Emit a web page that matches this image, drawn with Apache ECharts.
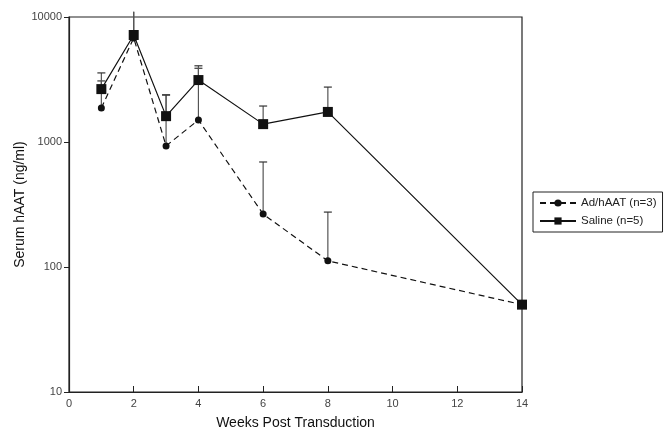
<!DOCTYPE html>
<html>
<head>
<meta charset="utf-8">
<script src="https://cdn.jsdelivr.net/npm/echarts@6/dist/echarts.min.js"></script>
<style>html,body{margin:0;padding:0;background:#fff;}#chart{width:668px;height:441px;}</style>
</head>
<body>
<div id="chart"></div>
<script>
var weeks = [1, 2, 3, 4, 6, 8, 14];
var adValues = [1870, 6800, 930, 1500, 265, 112, 50];
var adErrTop = [3080, 11000, 2380, 3890, 692, 275, null];
var salineValues = [2650, 7180, 1610, 3130, 1390, 1740, 50];
var salineErrTop = [3570, 11000, 2380, 4070, 1940, 2750, null];
var xTicks = [0, 2, 4, 6, 8, 10, 12, 14];
var yTicks = [10, 100, 1000, 10000];

function errData(vals, tops) {
  var out = [];
  for (var i = 0; i < weeks.length; i++) {
    if (tops[i] != null) out.push([weeks[i], vals[i], tops[i]]);
  }
  return out;
}
function renderErr(params, api) {
  var x = api.value(0), v = api.value(1), t = api.value(2);
  var p0 = api.coord([x, v]);
  var p1 = api.coord([x, t]);
  var children = [{
    type: 'line',
    shape: {x1: p0[0], y1: p0[1], x2: p1[0], y2: p1[1]},
    style: {stroke: '#555', lineWidth: 1.2}
  }];
  if (t <= 10000) {
    children.push({
      type: 'line',
      shape: {x1: p1[0] - 4, y1: p1[1], x2: p1[0] + 4, y2: p1[1]},
      style: {stroke: '#333', lineWidth: 1.2}
    });
  }
  return {type: 'group', children: children};
}

var chart = echarts.init(document.getElementById('chart'));
var font = 'Liberation Sans, Arial, Helvetica, sans-serif';
chart.setOption({
  animation: false,
  textStyle: {fontFamily: font},
  grid: {left: 69, right: 146, top: 17, bottom: 49, show: true, borderColor: '#222', borderWidth: 1.2,
         containLabel: false, outerBoundsMode: 'none'},
  legend: {
    orient: 'vertical',
    left: 533, top: 192,
    borderColor: '#222', borderWidth: 1,
    padding: [5, 6, 5, 6],
    itemGap: 6,
    itemWidth: 36, itemHeight: 9,
    textStyle: {fontSize: 11.5, color: '#222', fontFamily: font},
    data: ['Ad/hAAT (n=3)', 'Saline (n=5)']
  },
  xAxis: {
    type: 'value', min: 0, max: 14, interval: 2,
    name: 'Weeks Post Transduction', nameLocation: 'middle', nameGap: 24, nameMoveOverlap: false,
    nameTextStyle: {fontSize: 14, color: '#111', fontFamily: font},
    axisLine: {lineStyle: {color: '#222', width: 1.2}},
    axisTick: {inside: true, length: 6, lineStyle: {color: '#222'}},
    axisLabel: {color: '#444', fontSize: 11, margin: 6},
    splitLine: {show: false}
  },
  yAxis: {
    type: 'log', logBase: 10, min: 10, max: 10000,
    name: 'Serum hAAT (ng/ml)', nameLocation: 'middle', nameGap: 42, nameMoveOverlap: false,
    nameTextStyle: {fontSize: 14, color: '#111', fontFamily: font},
    axisLine: {show: true, lineStyle: {color: '#222', width: 1.2}},
    axisTick: {show: true, length: 5, lineStyle: {color: '#222'}},
    minorTick: {show: false},
    axisLabel: {color: '#444', fontSize: 11, margin: 7, formatter: function (v) { return String(Math.round(v)); }},
    splitLine: {show: false}
  },
  series: [
    {
      type: 'custom', name: 'adErr', renderItem: renderErr, clip: false, z: 1,
      data: errData(adValues, adErrTop), silent: true
    },
    {
      type: 'custom', name: 'salErr', renderItem: renderErr, clip: false, z: 1,
      data: errData(salineValues, salineErrTop), silent: true
    },
    {
      name: 'Ad/hAAT (n=3)', type: 'line', z: 3,
      data: weeks.map(function (w, i) { return [w, adValues[i]]; }),
      symbol: 'circle', symbolSize: 7,
      itemStyle: {color: '#111'},
      lineStyle: {color: '#111', width: 1.2, type: [6, 4]}
    },
    {
      name: 'Saline (n=5)', type: 'line', z: 4,
      data: weeks.map(function (w, i) { return [w, salineValues[i]]; }),
      symbol: 'rect', symbolSize: 10,
      itemStyle: {color: '#111'},
      lineStyle: {color: '#111', width: 1.2, type: 'solid'}
    }
  ]
});
</script>
</body>
</html>
